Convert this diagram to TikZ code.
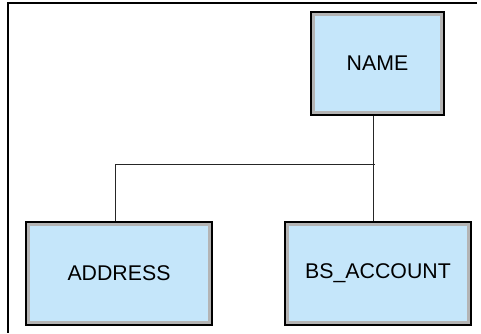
\documentclass[tikz,border=0pt]{standalone}
\usepackage{fontspec}
\setmainfont{Liberation Sans}
\definecolor{boxfill}{HTML}{C5E6FA}
\definecolor{boxrim}{HTML}{B4B4B4}
\begin{document}
\begin{tikzpicture}[x=1pt,y=-1pt,
  entity/.style={draw=black, line width=2pt, fill=boxfill,
    minimum height=103pt, inner sep=0pt,
    font=\fontsize{21.3}{24}\selectfont,
    path picture={\draw[boxrim, line width=8pt]
      (path picture bounding box.south west) rectangle (path picture bounding box.north east);}},
  conn/.style={draw=black!85, line width=1pt},
  frame/.style={draw=black, line width=1.5pt}]
\useasboundingbox (0,0) rectangle (481,333);
\coordinate (tl) at (8,3);
\coordinate (tr) at (477,3);
\coordinate (bl) at (8,333);
\draw[frame] (tr) -- (tl) -- (bl);
\node[entity, minimum width=133pt] (name) at (377.5,63.5) {NAME};
\node[entity, minimum width=186pt] (addr) at (119,273) {ADDRESS};
\node[entity, minimum width=186pt] (acct) at (378,273.5) {BS\_ACCOUNT};
\coordinate (j) at (373,164);
\coordinate (k) at (115,164);
\coordinate (je) at (375,164);
\draw[conn] (j |- name.south) -- (j |- acct.north);
\draw[conn] (k |- addr.north) -- (k) -- (je);
\end{tikzpicture}
\end{document}
